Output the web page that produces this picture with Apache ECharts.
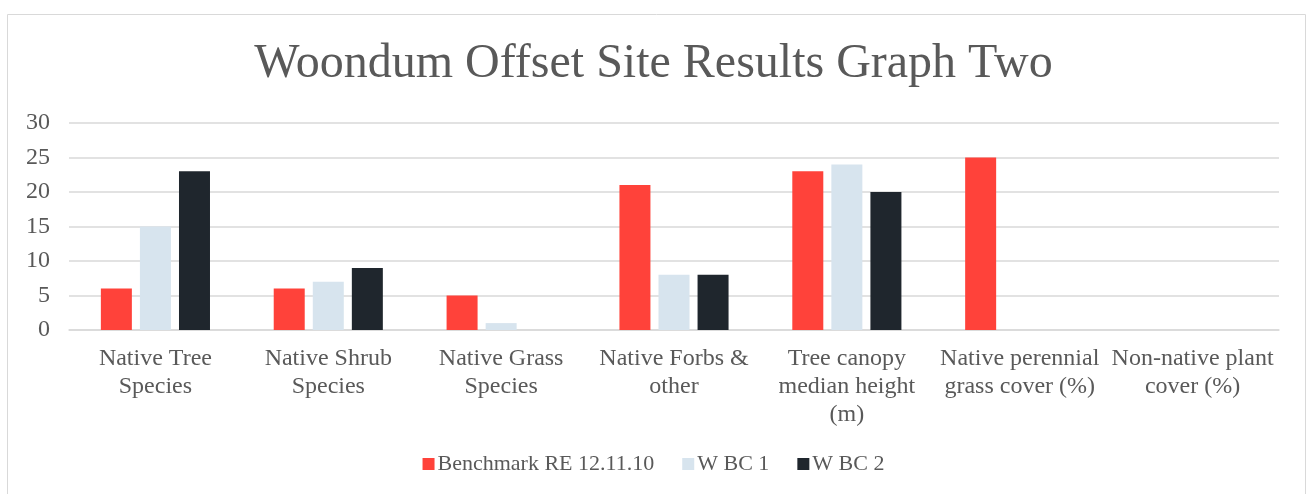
<!DOCTYPE html>
<html>
<head>
<meta charset="utf-8">
<script src="https://cdn.jsdelivr.net/npm/echarts@6/dist/echarts.min.js"></script>
<style>
    html, body { margin: 0; padding: 0; background: #fff; }
    #chart { width: 1307px; height: 494px; }
</style>
</head>
<body>
<div id="chart"></div>
<script>
const categories = [
    'Native Tree\nSpecies',
    'Native Shrub\nSpecies',
    'Native Grass\nSpecies',
    'Native Forbs &\nother',
    'Tree canopy\nmedian height\n(m)',
    'Native perennial\ngrass cover (%)',
    'Non-native plant\ncover (%)'
];
const benchmark = [6, 6, 5, 21, 23, 25, 0];
const wbc1 = [15, 7, 1, 8, 24, 0, 0];
const wbc2 = [23, 9, 0, 8, 20, 0, 0];
const yTicks = [0, 5, 10, 15, 20, 25, 30];

const font = 'Liberation Serif';
const textColor = '#595959';

const chart = echarts.init(document.getElementById('chart'));
const option = {
    animation: false,
    textStyle: { fontFamily: font },
    graphic: [{
        type: 'rect',
        shape: { x: 7.5, y: 14.5, width: 1298, height: 500 },
        style: { fill: 'none', stroke: '#d9d9d9', lineWidth: 1 },
        silent: true
    }],
    title: {
        text: 'Woondum Offset Site Results Graph Two',
        left: 'center',
        top: 35,
        textStyle: { fontFamily: font, fontSize: 48, fontWeight: 'normal', color: textColor }
    },
    legend: {
        bottom: 14,
        left: 'center',
        itemWidth: 12,
        itemHeight: 12,
        itemGap: 28,
        icon: 'rect',
        textStyle: { fontFamily: font, fontSize: 22, color: textColor, padding: [0, 0, 0, -2] },
        data: ['Benchmark RE 12.11.10', 'W BC 1', 'W BC 2']
    },
    grid: { left: 69, right: 28, top: 123, bottom: 164 },
    xAxis: {
        type: 'category',
        data: categories,
        axisTick: { show: false },
        axisLine: { lineStyle: { color: '#d9d9d9', width: 1.5 } },
        axisLabel: {
            interval: 0,
            fontFamily: font,
            fontSize: 24,
            color: textColor,
            lineHeight: 28,
            margin: 15
        }
    },
    yAxis: {
        type: 'value',
        min: yTicks[0],
        max: yTicks[yTicks.length - 1],
        interval: 5,
        axisLine: { show: false },
        axisTick: { show: false },
        splitLine: { lineStyle: { color: '#d9d9d9', width: 1.5 } },
        axisLabel: { fontFamily: font, fontSize: 24, color: textColor, margin: 19 }
    },
    series: [
        { name: 'Benchmark RE 12.11.10', type: 'bar', data: benchmark, barWidth: 31, barGap: '26%', itemStyle: { color: '#FF423A' } },
        { name: 'W BC 1', type: 'bar', data: wbc1, barWidth: 31, barGap: '26%', itemStyle: { color: '#D7E4EE' } },
        { name: 'W BC 2', type: 'bar', data: wbc2, barWidth: 31, barGap: '26%', itemStyle: { color: '#1F262D' } }
    ]
};
chart.setOption(option);
</script>
</body>
</html>
